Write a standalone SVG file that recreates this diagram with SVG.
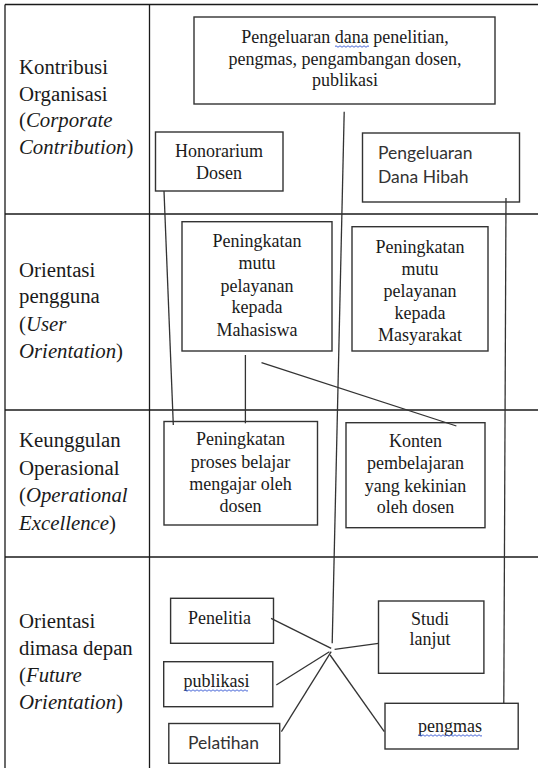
<svg xmlns="http://www.w3.org/2000/svg" width="538" height="768" viewBox="0 0 538 768">
<style>
.tbl{stroke:#1a1a1a;stroke-width:1.3;fill:none}
.box{fill:#fff;stroke:#333;stroke-width:1.4}
#connectors line{stroke:#333;stroke-width:1.3}
.lbl{font-family:"Liberation Serif","Times New Roman",serif;font-size:20.8px;fill:#1a1a1a}
.t{font-family:"Liberation Serif","Times New Roman",serif;font-size:18px;fill:#1a1a1a;text-anchor:middle}
.tl{font-family:"Liberation Serif","Times New Roman",serif;font-size:18px;fill:#1a1a1a}
.s{font-family:Lato,"Liberation Sans",sans-serif;font-size:17.5px;fill:#333}
.sq{stroke:#4a68d8;stroke-width:1;fill:none}
</style>
<rect width="538" height="768" fill="#fff"/>
<g id="table" class="tbl">
<line x1="5" y1="4.5" x2="538" y2="4.5"/>
<line x1="5" y1="4.5" x2="5" y2="768"/>
<line x1="149.5" y1="4.5" x2="149.5" y2="768"/>
<line x1="5" y1="214" x2="538" y2="214"/>
<line x1="5" y1="410" x2="538" y2="410"/>
<line x1="5" y1="557" x2="538" y2="557"/>
</g>
<g id="row-labels" class="lbl">
<text x="19" y="73.5">Kontribusi</text>
<text x="19" y="100.5">Organisasi</text>
<text x="19" y="127">(<tspan font-style="italic">Corporate</tspan></text>
<text x="19" y="153.5"><tspan font-style="italic">Contribution</tspan>)</text>
<text x="19" y="276.7">Orientasi</text>
<text x="19" y="303">pengguna</text>
<text x="19" y="330.5">(<tspan font-style="italic">User</tspan></text>
<text x="19" y="357.5"><tspan font-style="italic">Orientation</tspan>)</text>
<text x="19" y="446.7">Keunggulan</text>
<text x="19" y="474.5">Operasional</text>
<text x="19" y="502">(<tspan font-style="italic">Operational</tspan></text>
<text x="19" y="529.5"><tspan font-style="italic">Excellence</tspan>)</text>
<text x="19" y="628">Orientasi</text>
<text x="19" y="655">dimasa depan</text>
<text x="19" y="682">(<tspan font-style="italic">Future</tspan></text>
<text x="19" y="709"><tspan font-style="italic">Orientation</tspan>)</text>
</g>
<g id="node-pengeluaran-dana">
<rect class="box" x="194" y="17" width="301" height="87"/>
<text class="t" x="345" y="42.5">Pengeluaran dana penelitian,</text>
<text class="t" x="345" y="64.5">pengmas, pengambangan dosen,</text>
<text class="t" x="345" y="86">publikasi</text>
<path class="sq" d="M335 46.5 q1 -1.5 2 0 t2 0 t2 0 t2 0 t2 0 t2 0 t2 0 t2 0 t2 0 t2 0 t2 0 t2 0 t2 0 t2 0 t2 0 t2 0 t2 0"/>
</g>
<g id="node-honorarium">
<rect class="box" x="155.5" y="132" width="127.5" height="59"/>
<text class="t" x="219" y="157">Honorarium</text>
<text class="t" x="219" y="179">Dosen</text>
</g>
<g id="node-hibah">
<rect class="box" x="362.5" y="133" width="157" height="69"/>
<text class="s" x="378" y="158.5">Pengeluaran</text>
<text class="s" x="378" y="182.5">Dana Hibah</text>
</g>
<g id="node-mahasiswa">
<rect class="box" x="182" y="221.7" width="150" height="129.3"/>
<text class="t" x="257" y="247.3">Peningkatan</text>
<text class="t" x="257" y="269.3">mutu</text>
<text class="t" x="257" y="291.7">pelayanan</text>
<text class="t" x="257" y="313.3">kepada</text>
<text class="t" x="257" y="336">Mahasiswa</text>
</g>
<g id="node-masyarakat">
<rect class="box" x="352" y="226.7" width="136" height="124.3"/>
<text class="t" x="420" y="252.5">Peningkatan</text>
<text class="t" x="420" y="274.5">mutu</text>
<text class="t" x="420" y="297">pelayanan</text>
<text class="t" x="420" y="319">kepada</text>
<text class="t" x="420" y="341">Masyarakat</text>
</g>
<g id="node-proses">
<rect class="box" x="164" y="421.5" width="153.5" height="103.5"/>
<text class="t" x="240.5" y="445">Peningkatan</text>
<text class="t" x="240.5" y="467.7">proses belajar</text>
<text class="t" x="240.5" y="490">mengajar oleh</text>
<text class="t" x="240.5" y="511.7">dosen</text>
</g>
<g id="node-konten">
<rect class="box" x="346" y="422.7" width="139" height="105"/>
<text class="t" x="415.5" y="446.7">Konten</text>
<text class="t" x="415.5" y="469.3">pembelajaran</text>
<text class="t" x="415.5" y="491.7">yang kekinian</text>
<text class="t" x="415.5" y="513.3">oleh dosen</text>
</g>
<g id="node-penelitia">
<rect class="box" x="170.6" y="598.3" width="102.9" height="45"/>
<text class="tl" x="188" y="624">Penelitia</text>
</g>
<g id="node-publikasi">
<rect class="box" x="163.7" y="661.7" width="109.1" height="45"/>
<text class="tl" x="183.6" y="686.7">publikasi</text>
<path class="sq" d="M184 690.5 q1 -1.5 2 0 t2 0 t2 0 t2 0 t2 0 t2 0 t2 0 t2 0 t2 0 t2 0 t2 0 t2 0 t2 0 t2 0 t2 0 t2 0 t2 0 t2 0 t2 0 t2 0 t2 0 t2 0 t2 0 t2 0 t2 0 t2 0 t2 0 t2 0 t2 0 t2 0 t2 0 t2 0"/>
</g>
<g id="node-pelatihan">
<rect class="box" x="168.8" y="723.5" width="110.9" height="39.8"/>
<text class="s" x="188" y="749.3">Pelatihan</text>
</g>
<g id="node-studi">
<rect class="box" x="378.5" y="601" width="105.4" height="72.3"/>
<text class="t" x="430" y="625">Studi</text>
<text class="t" x="430" y="645">lanjut</text>
</g>
<g id="node-pengmas">
<rect class="box" x="385" y="703.3" width="133.2" height="45.7"/>
<text class="t" x="450" y="731.7">pengmas</text>
<path class="sq" d="M418 735.5 q1 -1.5 2 0 t2 0 t2 0 t2 0 t2 0 t2 0 t2 0 t2 0 t2 0 t2 0 t2 0 t2 0 t2 0 t2 0 t2 0 t2 0 t2 0 t2 0 t2 0 t2 0 t2 0 t2 0 t2 0 t2 0 t2 0 t2 0 t2 0 t2 0 t2 0 t2 0 t2 0 t2 0"/>
</g>
<g id="connectors">
<line x1="164" y1="191" x2="173.3" y2="425"/>
<line x1="344.2" y1="111.7" x2="332.2" y2="643.3"/>
<line x1="506" y1="198" x2="503.8" y2="703.3"/>
<line x1="245.4" y1="355" x2="245.4" y2="423.3"/>
<line x1="261.5" y1="362.7" x2="456.4" y2="426"/>
<line x1="271.1" y1="618.3" x2="331.2" y2="648.3"/>
<line x1="334.6" y1="649.3" x2="378.5" y2="643.3"/>
<line x1="276.3" y1="685" x2="329.4" y2="651.7"/>
<line x1="281.4" y1="731.7" x2="331.2" y2="651.7"/>
<line x1="330.1" y1="655" x2="384.3" y2="731.7"/>
</g>
</svg>
